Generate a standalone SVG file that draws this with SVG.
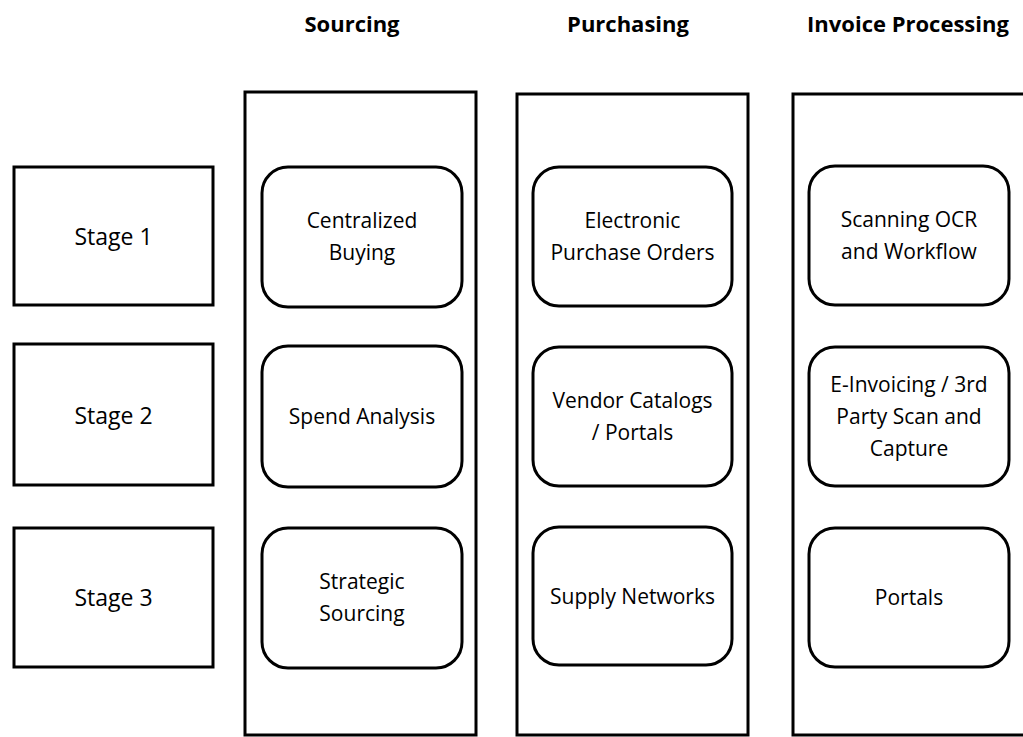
<svg xmlns="http://www.w3.org/2000/svg" width="1023" height="737" viewBox="0 0 1023 737">
  <style>
    .hdr { font-family: "Open Sans", "Liberation Sans", sans-serif; font-weight: bold; font-size: 22px; fill: #000; text-anchor: middle; }
    .lbl { font-family: "Open Sans", "Liberation Sans", sans-serif; font-size: 21px; fill: #000; text-anchor: middle; }
    .stg { font-family: "Open Sans", "Liberation Sans", sans-serif; font-size: 23px; fill: #000; text-anchor: middle; }
    .col { fill: #fff; stroke: #000; stroke-width: 3; }
    .stage { fill: #fff; stroke: #000; stroke-width: 3; }
    .step { fill: #fff; stroke: #000; stroke-width: 3; }
  </style>
  <rect width="1023" height="737" fill="#fff"/>

  <!-- column headers -->
  <g id="headers">
    <text class="hdr" x="352" y="32">Sourcing</text>
    <text class="hdr" x="628" y="32">Purchasing</text>
    <text class="hdr" x="908" y="32">Invoice Processing</text>
  </g>

  <!-- stage labels on the left -->
  <g id="stage1">
    <rect class="stage" x="14" y="167" width="199" height="138"/>
    <text class="stg" x="113.5" y="245">Stage 1</text>
  </g>
  <g id="stage2">
    <rect class="stage" x="14" y="344" width="199" height="141"/>
    <text class="stg" x="113.5" y="424">Stage 2</text>
  </g>
  <g id="stage3">
    <rect class="stage" x="14" y="528" width="199" height="139"/>
    <text class="stg" x="113.5" y="606">Stage 3</text>
  </g>

  <!-- process columns -->
  <g id="col-sourcing">
    <rect class="col" x="245" y="92" width="231" height="643"/>
  </g>
  <g id="col-purchasing">
    <rect class="col" x="517" y="94" width="231" height="641"/>
  </g>
  <g id="col-invoice">
    <rect class="col" x="793" y="94" width="240" height="641"/>
  </g>

  <!-- Sourcing steps -->
  <g id="centralized-buying">
    <rect class="step" x="262" y="167" width="200" height="140" rx="26"/>
    <text class="lbl" x="362" y="228">Centralized</text>
    <text class="lbl" x="362" y="260">Buying</text>
  </g>
  <g id="spend-analysis">
    <rect class="step" x="262" y="346" width="200" height="141" rx="26"/>
    <text class="lbl" x="362" y="424">Spend Analysis</text>
  </g>
  <g id="strategic-sourcing">
    <rect class="step" x="262" y="528" width="200" height="140" rx="26"/>
    <text class="lbl" x="362" y="589">Strategic</text>
    <text class="lbl" x="362" y="621">Sourcing</text>
  </g>

  <!-- Purchasing steps -->
  <g id="electronic-po">
    <rect class="step" x="533" y="167" width="199" height="139" rx="26"/>
    <text class="lbl" x="632.5" y="228">Electronic</text>
    <text class="lbl" x="632.5" y="260">Purchase Orders</text>
  </g>
  <g id="vendor-catalogs">
    <rect class="step" x="533" y="347" width="199" height="139" rx="26"/>
    <text class="lbl" x="632.5" y="408">Vendor Catalogs</text>
    <text class="lbl" x="632.5" y="440">/ Portals</text>
  </g>
  <g id="supply-networks">
    <rect class="step" x="533" y="527" width="199" height="138" rx="26"/>
    <text class="lbl" x="632.5" y="604">Supply Networks</text>
  </g>

  <!-- Invoice Processing steps -->
  <g id="scanning-ocr">
    <rect class="step" x="809" y="166" width="200" height="139" rx="26"/>
    <text class="lbl" x="909" y="227">Scanning OCR</text>
    <text class="lbl" x="909" y="259">and Workflow</text>
  </g>
  <g id="e-invoicing">
    <rect class="step" x="809" y="347" width="200" height="139" rx="26"/>
    <text class="lbl" x="909" y="392">E-Invoicing / 3rd</text>
    <text class="lbl" x="909" y="424">Party Scan and</text>
    <text class="lbl" x="909" y="456">Capture</text>
  </g>
  <g id="portals">
    <rect class="step" x="809" y="528" width="200" height="139" rx="26"/>
    <text class="lbl" x="909" y="605">Portals</text>
  </g>

  <g id="connectors"/>
</svg>
